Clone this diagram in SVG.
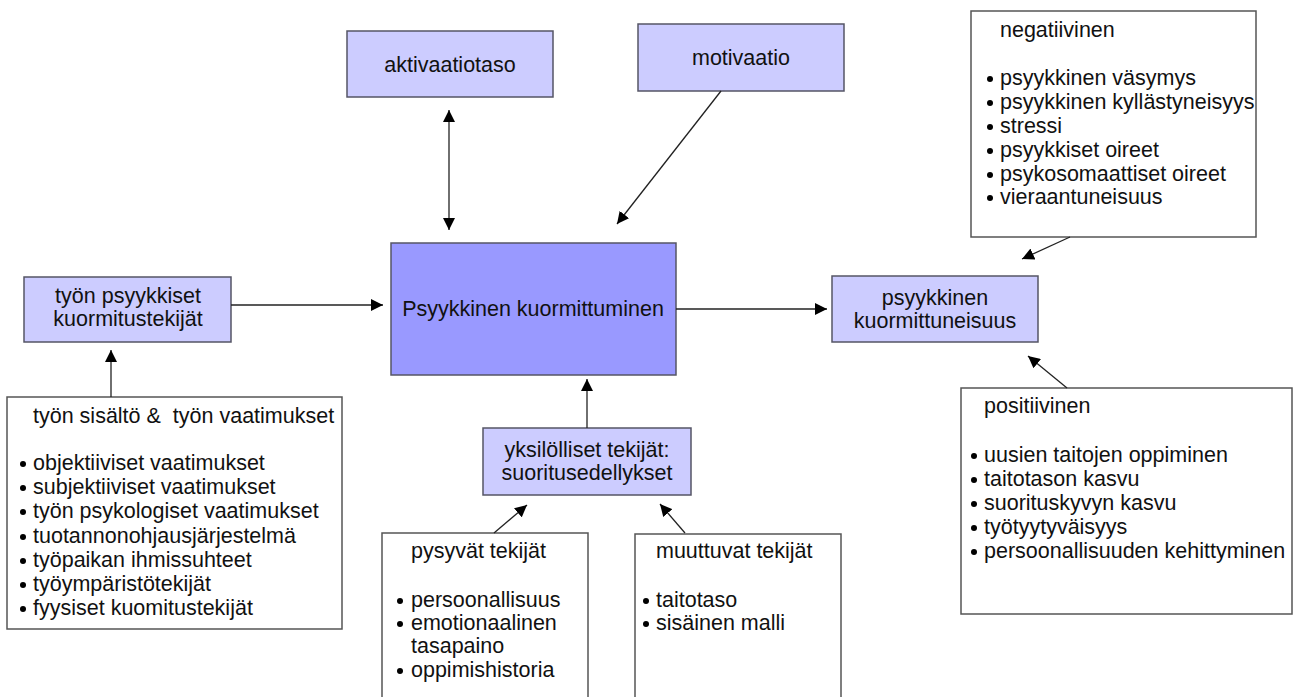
<svg xmlns="http://www.w3.org/2000/svg" width="1293" height="697" viewBox="0 0 1293 697">
<defs>
<style>
.lt{fill:#ccccff;stroke:#555566;stroke-width:1.5}
.mn{fill:#9999ff;stroke:#555566;stroke-width:1.5}
.wb{fill:#ffffff;stroke:#555555;stroke-width:1.5}
text{font-family:"Liberation Sans",Arial,sans-serif;font-size:21.5px;fill:#111111}
.c{text-anchor:middle}
.b{fill:#000}
.con line{stroke:#222;stroke-width:1.3;fill:none}
</style>
<marker id="ah" viewBox="0 0 10 10" refX="10" refY="5" markerWidth="12" markerHeight="12" markerUnits="userSpaceOnUse" orient="auto-start-reverse">
<path d="M0,0 L10,5 L0,10 z" fill="#000"/>
</marker>
</defs>
<rect width="1293" height="697" fill="#ffffff"/>

<g id="aktivaatiotaso">
<rect class="lt" x="347" y="31" width="206" height="66"/>
<text class="c" x="450" y="72">aktivaatiotaso</text>
</g>
<g id="motivaatio">
<rect class="lt" x="638" y="24" width="206" height="67"/>
<text class="c" x="741" y="65">motivaatio</text>
</g>
<g id="main">
<rect class="mn" x="391" y="243" width="285" height="132"/>
<text class="c" x="533" y="316">Psyykkinen kuormittuminen</text>
</g>
<g id="tyon-psyykkiset">
<rect class="lt" x="24" y="277" width="207" height="65"/>
<text class="c" x="128" y="303">työn psyykkiset</text>
<text class="c" x="128" y="326">kuormitustekijät</text>
</g>
<g id="kuormittuneisuus">
<rect class="lt" x="832" y="276" width="206" height="66"/>
<text class="c" x="935" y="305">psyykkinen</text>
<text class="c" x="935" y="328">kuormittuneisuus</text>
</g>
<g id="yksilolliset">
<rect class="lt" x="483" y="428" width="208" height="67"/>
<text class="c" x="587" y="457">yksilölliset tekijät:</text>
<text class="c" x="587" y="480">suoritusedellykset</text>
</g>
<g id="tyon-sisalto">
<rect class="wb" x="7" y="397" width="335" height="232"/>
<text x="33" y="423" xml:space="preserve">työn sisältö &amp;  työn vaatimukset</text>
<circle class="b" cx="23" cy="464" r="3"/><text x="33" y="470">objektiiviset vaatimukset</text>
<circle class="b" cx="23" cy="488" r="3"/><text x="33" y="494">subjektiiviset vaatimukset</text>
<circle class="b" cx="23" cy="512" r="3"/><text x="33" y="518">työn psykologiset vaatimukset</text>
<circle class="b" cx="23" cy="537" r="3"/><text x="33" y="543">tuotannonohjausjärjestelmä</text>
<circle class="b" cx="23" cy="561" r="3"/><text x="33" y="567">työpaikan ihmissuhteet</text>
<circle class="b" cx="23" cy="585" r="3"/><text x="33" y="591">työympäristötekijät</text>
<circle class="b" cx="23" cy="609" r="3"/><text x="33" y="615">fyysiset kuomitustekijät</text>
</g>
<g id="negatiivinen">
<rect class="wb" x="971" y="11" width="285" height="226"/>
<text x="1000" y="37">negatiivinen</text>
<circle class="b" cx="990" cy="79" r="3"/><text x="1000" y="85">psyykkinen väsymys</text>
<circle class="b" cx="990" cy="103" r="3"/><text x="1000" y="109">psyykkinen kyllästyneisyys</text>
<circle class="b" cx="990" cy="127" r="3"/><text x="1000" y="133">stressi</text>
<circle class="b" cx="990" cy="151" r="3"/><text x="1000" y="157">psyykkiset oireet</text>
<circle class="b" cx="990" cy="175" r="3"/><text x="1000" y="181">psykosomaattiset oireet</text>
<circle class="b" cx="990" cy="198" r="3"/><text x="1000" y="204">vieraantuneisuus</text>
</g>
<g id="positiivinen">
<rect class="wb" x="961" y="388" width="331" height="226"/>
<text x="984" y="413">positiivinen</text>
<circle class="b" cx="974" cy="456" r="3"/><text x="984" y="462">uusien taitojen oppiminen</text>
<circle class="b" cx="974" cy="480" r="3"/><text x="984" y="486">taitotason kasvu</text>
<circle class="b" cx="974" cy="504" r="3"/><text x="984" y="510">suorituskyvyn kasvu</text>
<circle class="b" cx="974" cy="528" r="3"/><text x="984" y="534">työtyytyväisyys</text>
<circle class="b" cx="974" cy="552" r="3"/><text x="984" y="558">persoonallisuuden kehittyminen</text>
</g>
<g id="pysyvat">
<rect class="wb" x="382" y="533" width="206" height="180"/>
<text x="411" y="558">pysyvät tekijät</text>
<circle class="b" cx="400" cy="601" r="3"/><text x="411" y="607">persoonallisuus</text>
<circle class="b" cx="400" cy="624" r="3"/><text x="411" y="630">emotionaalinen</text>
<text x="411" y="653">tasapaino</text>
<circle class="b" cx="400" cy="671" r="3"/><text x="411" y="677">oppimishistoria</text>
</g>
<g id="muuttuvat">
<rect class="wb" x="635" y="534" width="206" height="180"/>
<text x="656" y="558">muuttuvat tekijät</text>
<circle class="b" cx="646" cy="601" r="3"/><text x="656" y="607">taitotaso</text>
<circle class="b" cx="646" cy="624" r="3"/><text x="656" y="630">sisäinen malli</text>
</g>

<g id="connectors" class="con">
<line x1="449" y1="110" x2="449" y2="230" marker-start="url(#ah)" marker-end="url(#ah)"/>
<line x1="721" y1="91" x2="617" y2="224" marker-end="url(#ah)"/>
<line x1="231" y1="305" x2="383" y2="305" marker-end="url(#ah)"/>
<line x1="676" y1="309" x2="827" y2="309" marker-end="url(#ah)"/>
<line x1="111" y1="397" x2="111" y2="350" marker-end="url(#ah)"/>
<line x1="587" y1="428" x2="587" y2="379" marker-end="url(#ah)"/>
<line x1="494" y1="533" x2="527" y2="505" marker-end="url(#ah)"/>
<line x1="685" y1="533" x2="660" y2="504" marker-end="url(#ah)"/>
<line x1="1070" y1="237" x2="1022" y2="259" marker-end="url(#ah)"/>
<line x1="1067" y1="388" x2="1028" y2="356" marker-end="url(#ah)"/>
</g>
</svg>
